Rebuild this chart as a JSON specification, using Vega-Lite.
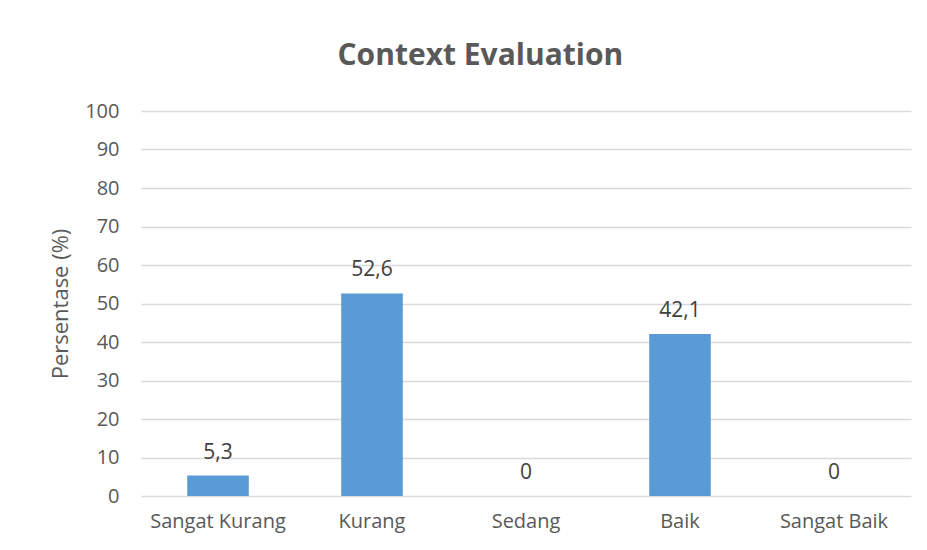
{
  "$schema": "https://vega.github.io/schema/vega-lite/v6.json",
  "width": 770,
  "height": 385,
  "autosize": {"type": "none"},
  "padding": {"left": 141, "top": 111, "right": 16, "bottom": 54},
  "background": "white",
  "config": {
    "locale": {"number": {"decimal": ",", "thousands": ".", "grouping": [3], "currency": ["", ""]}},
    "font": "Open Sans",
    "view": {"stroke": null}
  },
  "title": {
    "text": "Context Evaluation",
    "fontSize": 30,
    "fontWeight": "bold",
    "color": "#595959",
    "font": "Open Sans",
    "anchor": "middle",
    "frame": "bounds",
    "offset": 30
  },
  "data": {
    "values": [
      {"kategori": "Sangat Kurang", "persen": 5.3},
      {"kategori": "Kurang", "persen": 52.6},
      {"kategori": "Sedang", "persen": 0},
      {"kategori": "Baik", "persen": 42.1},
      {"kategori": "Sangat Baik", "persen": 0}
    ]
  },
  "encoding": {
    "x": {
      "field": "kategori",
      "type": "nominal",
      "sort": null,
      "scale": {"paddingInner": 0.6, "paddingOuter": 0.3},
      "axis": {
        "title": null,
        "labelAngle": 0,
        "labelFontSize": 20,
        "labelColor": "#595959",
        "labelPadding": 15,
        "ticks": false,
        "domain": false
      }
    },
    "y": {
      "field": "persen",
      "type": "quantitative",
      "scale": {"domain": [0, 100], "nice": false},
      "axis": {
        "title": "Persentase (%)",
        "titleFontSize": 22,
        "titleFontWeight": "normal",
        "titleColor": "#595959",
        "titlePadding": 12,
        "values": [0, 10, 20, 30, 40, 50, 60, 70, 80, 90, 100],
        "labelFontSize": 20,
        "labelColor": "#595959",
        "labelPadding": 22,
        "ticks": false,
        "domain": false,
        "grid": true,
        "gridColor": "#d9d9d9",
        "gridWidth": 1.3
      }
    }
  },
  "layer": [
    {"mark": {"type": "bar", "color": "#5b9bd5"}},
    {
      "mark": {"type": "text", "baseline": "alphabetic", "dy": -17, "fontSize": 21, "color": "#404040"},
      "encoding": {"text": {"field": "persen", "type": "quantitative", "format": ".1~f"}}
    }
  ]
}
